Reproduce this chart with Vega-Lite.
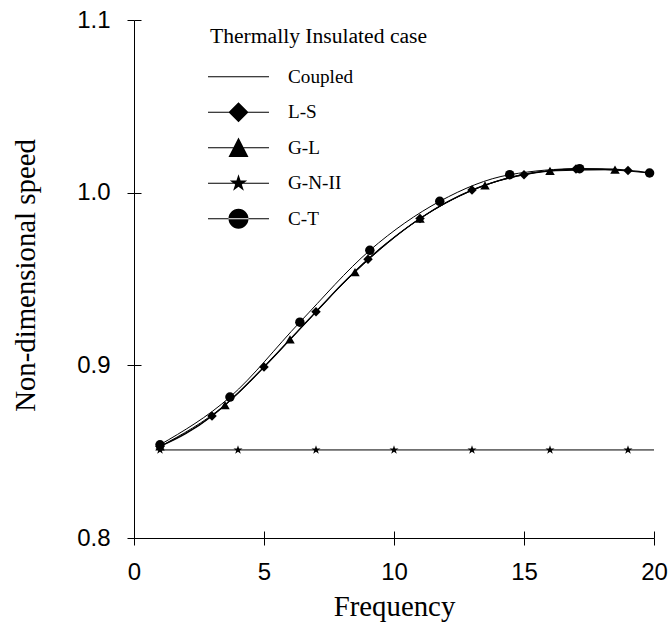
{
  "$schema": "https://vega.github.io/schema/vega-lite/v6.json",
  "width": 520,
  "height": 518,
  "autosize": "none",
  "padding": {"left": 134, "top": 20, "right": 15, "bottom": 85},
  "background": "white",
  "config": {
    "view": {"stroke": null},
    "axis": {
      "grid": false,
      "domainColor": "black",
      "tickColor": "black",
      "labelColor": "black",
      "titleColor": "black",
      "labelFont": "Liberation Sans",
      "labelFontSize": 24,
      "titleFont": "Liberation Serif",
      "titleFontSize": 28.8,
      "titleFontWeight": "normal",
      "domainWidth": 1,
      "tickWidth": 1,
      "labelFlush": false,
      "labelOverlap": false
    }
  },
  "data": {
    "values": [
      {"series": "Coupled", "x": 1, "y": 0.853, "marker": false},
      {"series": "Coupled", "x": 2, "y": 0.8605, "marker": false},
      {"series": "Coupled", "x": 3, "y": 0.8707, "marker": false},
      {"series": "Coupled", "x": 4, "y": 0.884, "marker": false},
      {"series": "Coupled", "x": 5, "y": 0.899, "marker": false},
      {"series": "Coupled", "x": 6, "y": 0.915, "marker": false},
      {"series": "Coupled", "x": 7, "y": 0.931, "marker": false},
      {"series": "Coupled", "x": 8, "y": 0.947, "marker": false},
      {"series": "Coupled", "x": 9, "y": 0.9615, "marker": false},
      {"series": "Coupled", "x": 10, "y": 0.974, "marker": false},
      {"series": "Coupled", "x": 11, "y": 0.985, "marker": false},
      {"series": "Coupled", "x": 12, "y": 0.9942, "marker": false},
      {"series": "Coupled", "x": 13, "y": 1.0015, "marker": false},
      {"series": "Coupled", "x": 14, "y": 1.0068, "marker": false},
      {"series": "Coupled", "x": 15, "y": 1.0104, "marker": false},
      {"series": "Coupled", "x": 16, "y": 1.0126, "marker": false},
      {"series": "Coupled", "x": 17, "y": 1.0137, "marker": false},
      {"series": "Coupled", "x": 18, "y": 1.0137, "marker": false},
      {"series": "Coupled", "x": 19, "y": 1.0129, "marker": false},
      {"series": "Coupled", "x": 20, "y": 1.0112, "marker": false},
      {"series": "L-S", "x": 1, "y": 0.853, "marker": true},
      {"series": "L-S", "x": 3, "y": 0.8707, "marker": true},
      {"series": "L-S", "x": 5, "y": 0.899, "marker": true},
      {"series": "L-S", "x": 7, "y": 0.931, "marker": true},
      {"series": "L-S", "x": 9, "y": 0.9615, "marker": true},
      {"series": "L-S", "x": 11, "y": 0.985, "marker": true},
      {"series": "L-S", "x": 13, "y": 1.0015, "marker": true},
      {"series": "L-S", "x": 15, "y": 1.0104, "marker": true},
      {"series": "L-S", "x": 17, "y": 1.0137, "marker": true},
      {"series": "L-S", "x": 19, "y": 1.0129, "marker": true},
      {"series": "G-L", "x": 1, "y": 0.853, "marker": true},
      {"series": "G-L", "x": 3.5, "y": 0.877, "marker": true},
      {"series": "G-L", "x": 6, "y": 0.915, "marker": true},
      {"series": "G-L", "x": 8.5, "y": 0.954, "marker": true},
      {"series": "G-L", "x": 11, "y": 0.985, "marker": true},
      {"series": "G-L", "x": 13.5, "y": 1.0042, "marker": true},
      {"series": "G-L", "x": 16, "y": 1.0126, "marker": true},
      {"series": "G-L", "x": 18.5, "y": 1.0133, "marker": true},
      {"series": "G-N-II", "x": 1, "y": 0.851, "marker": true},
      {"series": "G-N-II", "x": 4, "y": 0.851, "marker": true},
      {"series": "G-N-II", "x": 7, "y": 0.851, "marker": true},
      {"series": "G-N-II", "x": 10, "y": 0.851, "marker": true},
      {"series": "G-N-II", "x": 13, "y": 0.851, "marker": true},
      {"series": "G-N-II", "x": 16, "y": 0.851, "marker": true},
      {"series": "G-N-II", "x": 19, "y": 0.851, "marker": true},
      {"series": "G-N-II", "x": 20, "y": 0.851, "marker": false},
      {"series": "C-T", "x": 1, "y": 0.854, "marker": true},
      {"series": "C-T", "x": 3.69, "y": 0.8816, "marker": true},
      {"series": "C-T", "x": 6.38, "y": 0.925, "marker": true},
      {"series": "C-T", "x": 9.07, "y": 0.9666, "marker": true},
      {"series": "C-T", "x": 11.76, "y": 0.995, "marker": true},
      {"series": "C-T", "x": 14.45, "y": 1.0104, "marker": true},
      {"series": "C-T", "x": 17.14, "y": 1.0139, "marker": true},
      {"series": "C-T", "x": 19.83, "y": 1.0114, "marker": true}
    ]
  },
  "layer": [
    {
      "transform": [{"filter": "datum.series === 'Coupled'"}],
      "mark": {"type": "line", "interpolate": "monotone", "color": "black", "strokeWidth": 1.3},
      "encoding": {
        "x": {
          "field": "x", "type": "quantitative",
          "scale": {"domain": [0, 20], "nice": false, "zero": false},
          "axis": {"orient": "bottom", "values": [0, 5, 10, 15, 20], "tickSize": 7, "labelPadding": 15, "title": "Frequency", "titlePadding": 8}
        },
        "y": {
          "field": "y", "type": "quantitative",
          "scale": {"domain": [0.8, 1.1], "nice": false, "zero": false},
          "axis": {"orient": "left", "values": [0.8, 0.9, 1.0, 1.1], "format": ".1f", "tickSize": 7, "labelPadding": 17, "title": "Non-dimensional speed", "titleX": -109, "titleY": 255, "titleBaseline": "middle", "titleAngle": -90, "titleAlign": "center"}
        }
      }
    },
    {
      "transform": [{"filter": "datum.series !== 'Coupled'"}],
      "mark": {"type": "line", "interpolate": "monotone", "color": "black", "strokeWidth": 1},
      "encoding": {
        "detail": {"field": "series", "type": "nominal"},
        "x": {
          "field": "x", "type": "quantitative",
          "axis": {"orient": "bottom", "values": [0, 5, 10, 15, 20], "domain": false, "labels": false, "title": null, "tickSize": 7, "offset": -7}
        },
        "y": {
          "field": "y", "type": "quantitative",
          "axis": {"orient": "left", "values": [0.8, 0.9, 1.0, 1.1], "domain": false, "labels": false, "title": null, "tickSize": 7, "offset": -7}
        }
      }
    },
    {
      "transform": [{"filter": "datum.marker"}],
      "mark": {"type": "point", "filled": true, "color": "black", "opacity": 1, "size": 90},
      "encoding": {
        "x": {"field": "x", "type": "quantitative", "axis": null},
        "y": {"field": "y", "type": "quantitative", "axis": null},
        "shape": {
          "field": "series", "type": "nominal",
          "scale": {
            "domain": ["L-S", "G-L", "G-N-II", "C-T"],
            "range": ["diamond", "triangle-up", "M0,-1L0.225,-0.309L0.951,-0.309L0.363,0.118L0.588,0.809L0,0.382L-0.588,0.809L-0.363,0.118L-0.951,-0.309L-0.225,-0.309Z", "circle"]
          },
          "legend": null
        }
      }
    },
    {
      "mark": {"type": "point", "filled": true, "color": "black", "opacity": 0},
      "encoding": {
        "x": {"field": "x", "type": "quantitative", "axis": null},
        "y": {"field": "y", "type": "quantitative", "axis": null},
        "shape": {
          "field": "series", "type": "nominal",
          "scale": {
            "domain": ["Coupled", "L-S", "G-L", "G-N-II", "C-T"],
            "range": [
              "M-2,-0.033L2,-0.033L2,0.033L-2,0.033Z",
              "M-2,-0.033L2,-0.033L2,0.033L-2,0.033ZM-0.656,0L0,-0.656L0.656,0L0,0.656Z",
              "M-2,-0.033L2,-0.033L2,0.033L-2,0.033ZM0,-0.68L0.656,0.6L-0.656,0.6Z",
              "M-2,-0.033L2,-0.033L2,0.033L-2,0.033ZM0,-0.6L0.135,-0.186L0.571,-0.185L0.219,0.071L0.353,0.485L0,0.23L-0.353,0.485L-0.219,0.071L-0.571,-0.185L-0.135,-0.186Z",
              "M-2,-0.033L2,-0.033L2,0.033L-2,0.033ZM-0.656,0A0.656,0.656,0,1,0,0.656,0A0.656,0.656,0,1,0,-0.656,0Z"
            ]
          },
          "legend": {
            "title": "Thermally Insulated case",
            "orient": "none",
            "legendX": 76,
            "legendY": 5.7,
            "padding": 0,
            "titleFont": "Liberation Serif",
            "titleFontSize": 21.6,
            "titleFontWeight": "normal",
            "titleColor": "black",
            "titlePadding": 14,
            "titleLimit": 400,
            "labelFont": "Liberation Serif",
            "labelFontSize": 19.2,
            "labelColor": "black",
            "symbolSize": 930,
            "symbolOffset": 13,
            "labelOffset": 34,
            "rowPadding": 9.5,
            "symbolStrokeWidth": 0,
            "symbolFillColor": "black",
            "symbolStrokeColor": "black",
            "encode": {"symbols": {"update": {"opacity": {"value": 1}, "fill": {"value": "black"}, "stroke": {"value": "black"}, "strokeWidth": {"value": 0}}}}
          }
        }
      }
    }
  ],
  "resolve": {"scale": {"shape": "independent"}, "axis": {"x": "independent", "y": "independent"}}
}
